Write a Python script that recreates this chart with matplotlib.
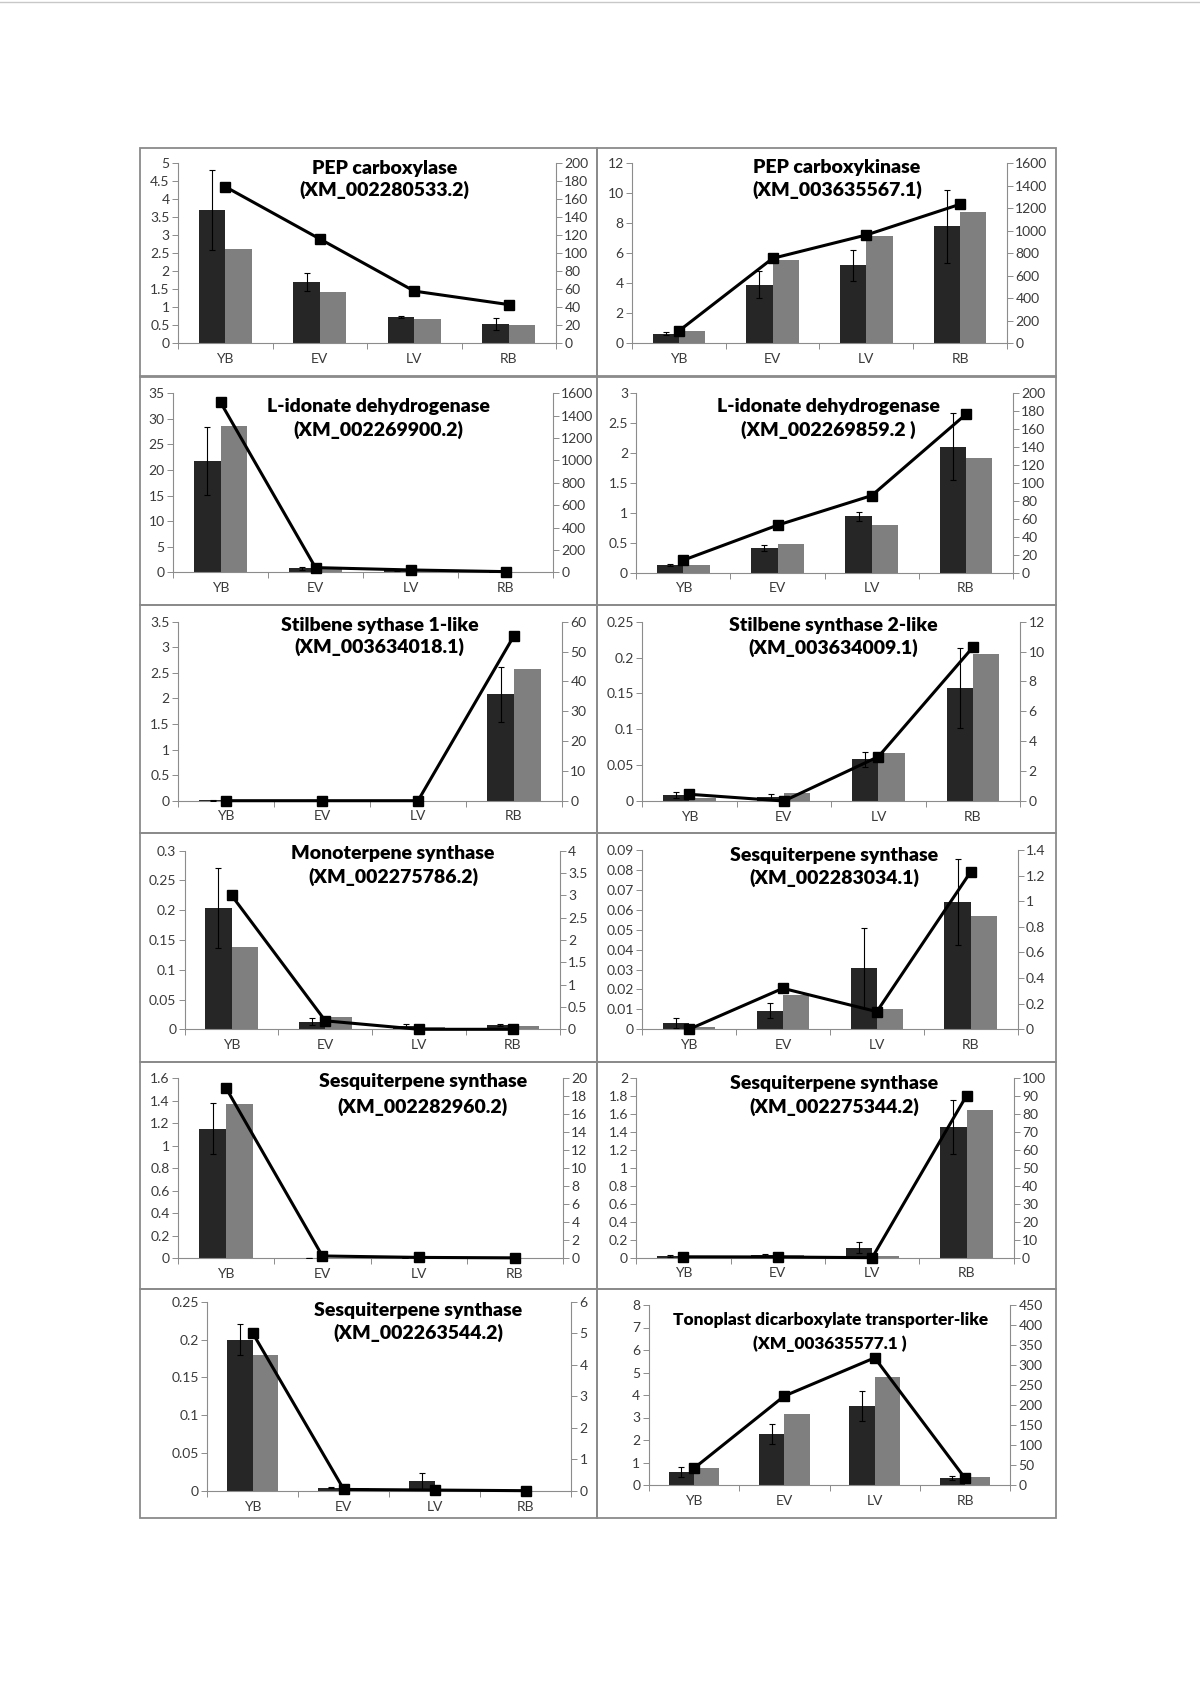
import numpy as np
import matplotlib
matplotlib.use("Agg")
import matplotlib.pyplot as plt
from matplotlib.patches import Rectangle
from matplotlib.lines import Line2D

plt.rcParams['font.family'] = ['Lato', 'DejaVu Sans']

W, H = 1200, 1697

categories = ["YB", "EV", "LV", "RB"]

titles = [
    ("PEP carboxylase", "(XM_002280533.2)"),
    ("PEP carboxykinase", "(XM_003635567.1)"),
    ("L-idonate dehydrogenase", "(XM_002269900.2)"),
    ("L-idonate dehydrogenase", "(XM_002269859.2 )"),
    ("Stilbene sythase 1-like", "(XM_003634018.1)"),
    ("Stilbene synthase 2-like", "(XM_003634009.1)"),
    ("Monoterpene synthase", "(XM_002275786.2)"),
    ("Sesquiterpene synthase", "(XM_002283034.1)"),
    ("Sesquiterpene synthase", "(XM_002282960.2)"),
    ("Sesquiterpene synthase", "(XM_002275344.2)"),
    ("Sesquiterpene synthase", "(XM_002263544.2)"),
    ("Tonoplast dicarboxylate transporter-like", "(XM_003635577.1 )"),
]

# dark bars (left axis) with error bars
dark_means = [
    [3.7, 1.7, 0.73, 0.53],
    [0.65, 3.9, 5.2, 7.8],
    [21.8, 0.8, 0.4, 0.1],
    [0.13, 0.42, 0.94, 2.11],
    [0.005, 0.005, 0.005, 2.08],
    [0.0084, 0.006, 0.058, 0.158],
    [0.204, 0.013, 0.0056, 0.0073],
    [0.003, 0.0094, 0.0306, 0.064],
    [1.15, 0.005, 0.002, 0.001],
    [0.022, 0.03, 0.11, 1.46],
    [0.2, 0.0044, 0.0132, 0.0005],
    [0.59, 2.27, 3.5, 0.30],
]
dark_err = [
    [1.1, 0.24, 0.04, 0.17],
    [0.13, 0.9, 1.05, 2.45],
    [6.7, 0.3, 0.1, 0.05],
    [0.01, 0.05, 0.07, 0.56],
    [0.002, 0.002, 0.002, 0.54],
    [0.0045, 0.0033, 0.011, 0.056],
    [0.067, 0.0057, 0.004, 0.001],
    [0.0025, 0.0038, 0.02, 0.0217],
    [0.227, 0.002, 0.001, 0.001],
    [0.01, 0.015, 0.06, 0.3],
    [0.02, 0.001, 0.01, 0.0002],
    [0.22, 0.46, 0.67, 0.08],
]
# gray bars (left axis)
gray_means = [
    [2.62, 1.42, 0.67, 0.51],
    [0.8, 5.55, 7.15, 8.75],
    [28.6, 0.7, 0.3, 0.1],
    [0.13, 0.48, 0.8, 1.91],
    [0.003, 0.003, 0.003, 2.58],
    [0.0046, 0.011, 0.0665, 0.205],
    [0.138, 0.0207, 0.004, 0.006],
    [0.001, 0.017, 0.010, 0.0569],
    [1.372, 0.003, 0.003, 0.003],
    [0.015, 0.028, 0.018, 1.65],
    [0.18, 0.0035, 0.0013, 0.0005],
    [0.74, 3.15, 4.8, 0.34],
]
# line with squares (right axis)
line_vals = [
    [174, 116, 58, 43],
    [110, 755, 963, 1236],
    [1520, 42, 21, 6],
    [14, 53, 86, 176.6],
    [0, 0, 0, 55.3],
    [0.45, 0, 2.97, 10.3],
    [3.0, 0.19, 0, 0],
    [0, 0.32, 0.138, 1.23],
    [18.9, 0.26, 0.1, 0.05],
    [0.5, 0.4, 0, 90.3],
    [5.0, 0.05, 0.03, 0.01],
    [41.7, 222.5, 318, 16.7],
]
# (max, step) of the axes
left_scale = [(5, 0.5), (12, 2), (35, 5), (3, 0.5), (3.5, 0.5), (0.25, 0.05),
              (0.3, 0.05), (0.09, 0.01), (1.6, 0.2), (2, 0.2), (0.25, 0.05), (8, 1)]
right_scale = [(200, 20), (1600, 200), (1600, 200), (200, 20), (60, 10), (12, 2),
               (4, 0.5), (1.4, 0.2), (20, 2), (100, 10), (6, 1), (450, 50)]

# layout in pixels: plot area (x0, x1, y_top, y_zero) and title (x, y1, y2)
plot_boxes = [
    (178, 556, 163.3, 343.3), (632, 1007, 163.3, 343.3),
    (173, 553, 393.3, 572.3), (636.3, 1013, 393.3, 572.7),
    (178, 562, 621.7, 800.7), (642, 1020.3, 621.7, 801),
    (184.7, 559.7, 850.7, 1029.3), (642, 1017.7, 850, 1029.3),
    (178, 563, 1078.3, 1258.3), (636.3, 1013.7, 1078.3, 1257.7),
    (207.3, 571.3, 1301.7, 1491), (648.7, 1010.3, 1305, 1485),
]
title_pos = [
    (384.7, 168.3, 190), (837, 167.7, 190),
    (378, 406.7, 430), (828.7, 406.7, 430),
    (379.7, 625, 646.7), (833, 625, 648.3),
    (393, 853.3, 876.7), (834.3, 855, 878.3),
    (423, 1081.7, 1106.7), (834.3, 1083.3, 1106.7),
    (418, 1310.7, 1333.3), (830.3, 1320, 1343.3),
]
col_edges = [140, 597, 1056]
row_edges = [148, 376.5, 605, 833, 1061.5, 1289, 1518]

DARK = '#262626'
GRAY = '#7f7f7f'
AXC = '#8c8c8c'
TXT = '#3a3a3a'
TICK_FS = 10


def fmt(v):
    return f"{round(v, 6):g}"


def make_panel(fig, i):
    x0, x1, yt, yb = plot_boxes[i]
    ax = fig.add_axes([x0 / W, 1 - yb / H, (x1 - x0) / W, (yb - yt) / H])
    ax.patch.set_alpha(0)
    x = np.arange(len(categories))
    bw = 0.28

    ax.bar(x - bw / 2, dark_means[i], bw, color=DARK, zorder=2)
    ax.bar(x + bw / 2, gray_means[i], bw, color=GRAY, zorder=2)
    ax.errorbar(x - bw / 2, dark_means[i], yerr=dark_err[i], fmt='none',
                ecolor='black', elinewidth=0.8, capsize=2.5, capthick=0.8, zorder=3)

    lmax, lstep = left_scale[i]
    ax.set_ylim(0, lmax)
    lt = np.arange(0, lmax + lstep / 2, lstep)
    ax.set_yticks(lt)
    ax.set_yticklabels([fmt(v) for v in lt])

    ax.set_xlim(-0.5, len(categories) - 0.5)
    ax.set_xticks(np.arange(-0.5, len(categories), 1.0))
    ax.set_xticklabels([])
    ax.set_xticks(x, minor=True)
    ax.set_xticklabels(categories, minor=True)
    ax.tick_params(axis='x', which='major', length=4, width=0.7, color=AXC, direction='out')
    ax.tick_params(axis='x', which='minor', length=0, pad=7, labelsize=TICK_FS, labelcolor=TXT)
    ax.tick_params(axis='y', length=4, width=0.7, color=AXC, direction='out',
                   pad=2, labelsize=TICK_FS, labelcolor=TXT)
    for s in ['top', 'right']:
        ax.spines[s].set_visible(False)
    for s in ['left', 'bottom']:
        ax.spines[s].set_color(AXC)
        ax.spines[s].set_linewidth(0.8)

    ax2 = ax.twinx()
    rmax, rstep = right_scale[i]
    ax2.plot(x, line_vals[i], color='black', lw=2.2, marker='s', ms=7.5,
             mfc='black', mec='black', clip_on=False, zorder=4)
    ax2.set_ylim(0, rmax)
    rt = np.arange(0, rmax + rstep / 2, rstep)
    ax2.set_yticks(rt)
    ax2.set_yticklabels([fmt(v) for v in rt])
    ax2.tick_params(axis='y', length=4, width=0.7, color=AXC, direction='out',
                    pad=2, labelsize=TICK_FS, labelcolor=TXT)
    for s in ['top', 'left', 'bottom']:
        ax2.spines[s].set_visible(False)
    ax2.spines['right'].set_color(AXC)
    ax2.spines['right'].set_linewidth(0.8)

    tx, ty1, ty2 = title_pos[i]
    fs = 12.4 if len(titles[i][0]) > 30 else 14
    fig.text(tx / W, 1 - ty1 / H, titles[i][0], ha='center', va='center',
             fontsize=fs, fontweight='heavy', color='black')
    fig.text(tx / W, 1 - ty2 / H, titles[i][1], ha='center', va='center',
             fontsize=fs, fontweight='heavy', color='black')


fig = plt.figure(figsize=(W / 100, H / 100), dpi=100)
fig.patch.set_facecolor('white')

# faint page edge at the top
fig.add_artist(Line2D([0, 1], [1 - 2 / H, 1 - 2 / H], color='#c8c8c8', lw=1))

# panel frames
for r in range(len(row_edges) - 1):
    for c in range(len(col_edges) - 1):
        xa, xb = col_edges[c], col_edges[c + 1]
        ya, yb_ = row_edges[r], row_edges[r + 1]
        fig.add_artist(Rectangle((xa / W, 1 - yb_ / H), (xb - xa) / W, (yb_ - ya) / H,
                                 fill=False, edgecolor='#8a8a8a', lw=1.3))

for i in range(len(titles)):
    make_panel(fig, i)

fig.savefig("out.png", dpi=100)
